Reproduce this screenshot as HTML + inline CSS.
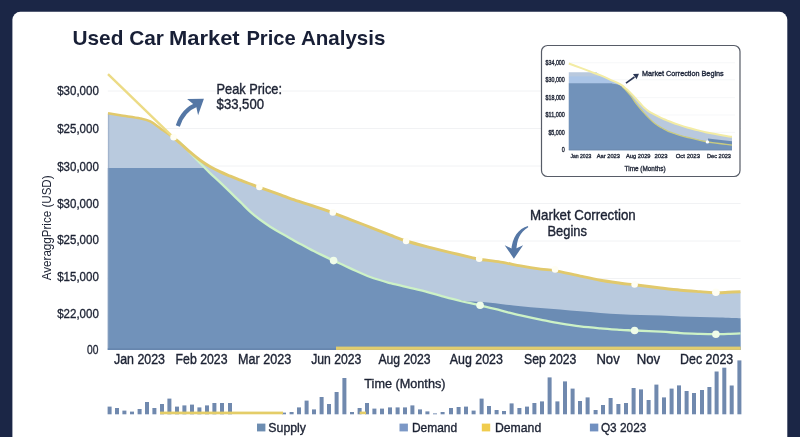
<!DOCTYPE html>
<html><head><meta charset="utf-8"><title>Used Car Market Price Analysis</title>
<style>html,body{margin:0;padding:0;background:#1b2646;width:800px;height:437px;overflow:hidden}svg{display:block;filter:blur(0.35px)}text{font-family:"Liberation Sans",Arial,sans-serif}</style></head><body>
<svg width="800" height="437" viewBox="0 0 800 437">
<rect width="800" height="437" fill="#1b2646"/>
<rect x="12.4" y="11.8" width="774.9" height="440" rx="8" ry="8" fill="#ffffff"/>
<g stroke="#f1f2f4" stroke-width="1"><line x1="107.8" y1="91.0" x2="740.6" y2="91.0"/><line x1="107.8" y1="128.5" x2="740.6" y2="128.5"/><line x1="107.8" y1="166.0" x2="740.6" y2="166.0"/><line x1="107.8" y1="203.5" x2="740.6" y2="203.5"/><line x1="107.8" y1="241.0" x2="740.6" y2="241.0"/><line x1="107.8" y1="278.5" x2="740.6" y2="278.5"/><line x1="107.8" y1="316.0" x2="740.6" y2="316.0"/></g>
<path d="M108.0,113.3 C110.0,113.6 114.7,114.4 120.1,115.3 C125.5,116.2 135.2,117.4 140.2,118.4 C145.2,119.4 146.9,119.7 150.3,121.4 C153.7,123.1 157.4,126.3 160.4,128.4 C163.4,130.5 166.2,132.5 168.4,134.0 C170.6,135.5 172.7,137.0 173.6,137.6 L173.6,137.6 C174.8,138.6 177.7,141.1 180.5,143.5 C183.3,145.9 186.9,149.4 190.2,152.2 C193.5,155.0 196.8,157.8 200.2,160.2 C203.5,162.6 206.9,164.8 210.3,166.7 C213.7,168.6 217.1,170.3 220.4,171.9 C223.8,173.5 227.1,174.8 230.4,176.2 C233.8,177.6 237.2,178.9 240.5,180.2 C243.8,181.5 247.3,182.8 250.5,184.0 C253.7,185.2 254.4,185.5 259.4,187.3 C264.4,189.1 275.5,192.9 280.7,194.8 C285.9,196.7 285.4,196.9 290.4,198.6 C295.4,200.3 303.4,202.8 310.5,205.2 C317.6,207.6 326.2,210.4 332.8,212.8 C339.4,215.2 344.1,217.2 350.4,219.6 C356.7,222.0 363.8,224.7 370.5,227.3 C377.2,229.9 384.5,232.9 390.4,235.2 C396.3,237.5 399.4,238.9 406.1,241.0 C412.8,243.1 423.2,245.7 430.6,247.6 C438.0,249.5 444.0,251.0 450.7,252.6 C457.4,254.2 466.1,256.2 470.8,257.3 C475.6,258.4 474.2,258.4 479.2,259.2 C484.2,260.0 493.7,261.0 500.6,262.1 C507.5,263.2 514.0,264.7 520.7,265.9 C527.4,267.1 535.1,268.3 540.8,269.1 C546.5,269.9 548.5,269.4 555.1,270.6 C561.7,271.8 572.7,274.5 580.2,276.1 C587.8,277.7 593.7,279.0 600.4,280.2 C607.1,281.4 614.8,282.4 620.5,283.2 C626.2,284.0 627.9,284.0 634.6,284.8 C641.3,285.6 653.0,287.1 660.7,288.0 C668.4,288.9 674.2,289.6 680.8,290.2 C687.3,290.8 694.1,291.2 700.0,291.6 C705.9,292.0 711.2,292.6 715.9,292.7 C720.6,292.8 723.9,292.5 728.0,292.3 C732.1,292.1 738.4,291.8 740.5,291.7 L740.6,350.0 L107.8,350.0 Z" fill="#b9cade"/>
<path d="M107.8,168 L204.6,168 L204.6,168.0 C205.6,168.9 207.7,170.9 210.3,173.3 C212.9,175.7 217.1,179.4 220.4,182.6 C223.7,185.8 227.0,189.0 230.3,192.2 C233.6,195.4 237.0,198.7 240.3,201.9 C243.6,205.1 246.8,208.6 250.1,211.6 C253.4,214.6 256.8,217.3 260.2,219.8 C263.6,222.3 266.8,224.5 270.2,226.7 C273.6,228.8 276.9,230.8 280.3,232.7 C283.7,234.6 287.0,236.5 290.4,238.4 C293.8,240.3 297.0,242.2 300.4,244.0 C303.8,245.8 307.1,247.7 310.5,249.4 C313.9,251.1 316.6,252.5 320.5,254.4 C324.4,256.3 328.6,258.3 333.6,260.6 C338.6,262.9 344.3,265.7 350.4,268.4 C356.5,271.1 363.5,274.5 370.2,277.0 C376.9,279.5 385.4,281.8 390.4,283.2 C395.4,284.6 395.1,284.2 400.0,285.4 C404.9,286.6 413.4,288.5 420.1,290.2 C426.8,291.9 433.5,293.9 440.2,295.7 C446.9,297.5 453.8,299.4 460.4,301.0 C467.0,302.6 473.4,303.7 480.1,305.3 C486.8,306.9 493.8,308.7 500.6,310.4 C507.4,312.1 514.1,313.9 520.7,315.4 C527.3,316.9 533.8,318.3 540.4,319.6 C547.0,320.9 553.5,322.3 560.1,323.4 C566.7,324.5 573.5,325.6 580.2,326.4 C586.9,327.2 593.7,327.8 600.4,328.4 C607.1,329.0 614.8,329.5 620.5,329.9 C626.2,330.2 627.9,330.2 634.6,330.5 C641.3,330.8 653.0,331.3 660.7,331.7 C668.4,332.1 674.2,332.7 680.8,333.1 C687.3,333.5 694.1,333.7 700.0,333.9 C705.9,334.1 711.2,334.2 715.9,334.2 C720.6,334.2 723.9,334.0 728.0,333.9 C732.1,333.8 738.4,333.5 740.5,333.4 L740.6,350.0 L107.8,350.0 Z" fill="#7192ba"/>
<path d="M452.0,298.8 C454.3,299.2 461.2,300.7 466.0,301.2 C470.8,301.7 474.7,301.4 480.5,301.8 C486.3,302.2 493.9,303.1 500.6,303.9 C507.3,304.6 514.1,305.6 520.7,306.3 C527.3,307.0 533.8,307.5 540.4,308.0 C547.0,308.5 553.5,308.8 560.1,309.4 C566.7,309.9 573.5,310.7 580.2,311.3 C586.9,311.9 593.7,312.4 600.4,312.9 C607.1,313.4 613.8,313.8 620.5,314.2 C627.2,314.6 633.9,314.8 640.6,315.0 C647.3,315.2 654.0,315.4 660.7,315.6 C667.4,315.8 674.2,316.2 680.8,316.4 C687.3,316.6 693.5,316.8 700.0,317.0 C706.5,317.2 713.2,317.4 720.0,317.6 C726.8,317.8 737.1,318.2 740.5,318.3 L740.6,333.4 L740.5,333.4 L728.0,333.9 L715.9,334.2 L700.0,333.9 L680.8,333.1 L660.7,331.7 L634.6,330.5 L620.5,329.9 L600.4,328.4 L580.2,326.4 L560.1,323.4 L540.4,319.6 L520.7,315.4 L500.6,310.4 L480.1,305.3 L460.4,301.0 Z" fill="#6b8cb4"/>
<rect x="107.8" y="113.5" width="1.4" height="236" fill="#8fa3c0" opacity="0.55"/>
<rect x="107.8" y="348.3" width="228.2" height="1.7" fill="#6786ae"/>
<rect x="336" y="346.6" width="404.6" height="3.3" fill="#e1cd6e"/>
<path d="M108.0,113.3 C110.0,113.6 114.7,114.4 120.1,115.3 C125.5,116.2 135.2,117.4 140.2,118.4 C145.2,119.4 146.9,119.7 150.3,121.4 C153.7,123.1 157.4,126.3 160.4,128.4 C163.4,130.5 166.2,132.5 168.4,134.0 C170.6,135.5 172.7,137.0 173.6,137.6" fill="none" stroke="#e1c96c" stroke-width="2.4" stroke-linejoin="round"/>
<path d="M108,74.1 L173.6,137.6" fill="none" stroke="#ecdb85" stroke-width="2.4" stroke-linecap="butt"/>
<path d="M173.6,137.6 C174.7,138.4 177.4,140.1 180.1,142.6 C182.8,145.1 186.7,149.1 190.0,152.6 C193.3,156.1 196.8,159.9 200.2,163.3 C203.6,166.8 206.9,170.1 210.3,173.3 C213.7,176.5 217.1,179.4 220.4,182.6 C223.7,185.8 227.0,189.0 230.3,192.2 C233.6,195.4 237.0,198.7 240.3,201.9 C243.6,205.1 246.8,208.6 250.1,211.6 C253.4,214.6 256.8,217.3 260.2,219.8 C263.6,222.3 266.8,224.5 270.2,226.7 C273.6,228.8 276.9,230.8 280.3,232.7 C283.7,234.6 287.0,236.5 290.4,238.4 C293.8,240.3 297.0,242.2 300.4,244.0 C303.8,245.8 307.1,247.7 310.5,249.4 C313.9,251.1 316.6,252.5 320.5,254.4 C324.4,256.3 328.6,258.3 333.6,260.6 C338.6,262.9 344.3,265.7 350.4,268.4 C356.5,271.1 363.5,274.5 370.2,277.0 C376.9,279.5 385.4,281.8 390.4,283.2 C395.4,284.6 395.1,284.2 400.0,285.4 C404.9,286.6 413.4,288.5 420.1,290.2 C426.8,291.9 433.5,293.9 440.2,295.7 C446.9,297.5 453.8,299.4 460.4,301.0 C467.0,302.6 473.4,303.7 480.1,305.3 C486.8,306.9 493.8,308.7 500.6,310.4 C507.4,312.1 514.1,313.9 520.7,315.4 C527.3,316.9 533.8,318.3 540.4,319.6 C547.0,320.9 553.5,322.3 560.1,323.4 C566.7,324.5 573.5,325.6 580.2,326.4 C586.9,327.2 593.7,327.8 600.4,328.4 C607.1,329.0 614.8,329.5 620.5,329.9 C626.2,330.2 627.9,330.2 634.6,330.5 C641.3,330.8 653.0,331.3 660.7,331.7 C668.4,332.1 674.2,332.7 680.8,333.1 C687.3,333.5 694.1,333.7 700.0,333.9 C705.9,334.1 711.2,334.2 715.9,334.2 C720.6,334.2 723.9,334.0 728.0,333.9 C732.1,333.8 738.4,333.5 740.5,333.4" fill="none" stroke="#cdf2c6" stroke-width="2.3" stroke-linejoin="round"/>
<path d="M173.6,137.6 C174.8,138.6 177.7,141.1 180.5,143.5 C183.3,145.9 186.9,149.4 190.2,152.2 C193.5,155.0 196.8,157.8 200.2,160.2 C203.5,162.6 206.9,164.8 210.3,166.7 C213.7,168.6 217.1,170.3 220.4,171.9 C223.8,173.5 227.1,174.8 230.4,176.2 C233.8,177.6 237.2,178.9 240.5,180.2 C243.8,181.5 247.3,182.8 250.5,184.0 C253.7,185.2 254.4,185.5 259.4,187.3 C264.4,189.1 275.5,192.9 280.7,194.8 C285.9,196.7 285.4,196.9 290.4,198.6 C295.4,200.3 303.4,202.8 310.5,205.2 C317.6,207.6 326.2,210.4 332.8,212.8 C339.4,215.2 344.1,217.2 350.4,219.6 C356.7,222.0 363.8,224.7 370.5,227.3 C377.2,229.9 384.5,232.9 390.4,235.2 C396.3,237.5 399.4,238.9 406.1,241.0 C412.8,243.1 423.2,245.7 430.6,247.6 C438.0,249.5 444.0,251.0 450.7,252.6 C457.4,254.2 466.1,256.2 470.8,257.3 C475.6,258.4 474.2,258.4 479.2,259.2 C484.2,260.0 493.7,261.0 500.6,262.1 C507.5,263.2 514.0,264.7 520.7,265.9 C527.4,267.1 535.1,268.3 540.8,269.1 C546.5,269.9 548.5,269.4 555.1,270.6 C561.7,271.8 572.7,274.5 580.2,276.1 C587.8,277.7 593.7,279.0 600.4,280.2 C607.1,281.4 614.8,282.4 620.5,283.2 C626.2,284.0 627.9,284.0 634.6,284.8 C641.3,285.6 653.0,287.1 660.7,288.0 C668.4,288.9 674.2,289.6 680.8,290.2 C687.3,290.8 694.1,291.2 700.0,291.6 C705.9,292.0 711.2,292.6 715.9,292.7 C720.6,292.8 723.9,292.5 728.0,292.3 C732.1,292.1 738.4,291.8 740.5,291.7" fill="none" stroke="#e1c96c" stroke-width="2.9" stroke-linejoin="round"/>
<g fill="#fffef4"><circle cx="173.6" cy="137.2" r="3.3"/><circle cx="259.4" cy="186.9" r="3.3"/><circle cx="332.8" cy="212.4" r="3.3"/><circle cx="406.1" cy="241.0" r="3.3"/><circle cx="479.2" cy="258.8" r="3.3"/><circle cx="555.1" cy="269.4" r="3.3"/><circle cx="634.6" cy="284.4" r="3.3"/><circle cx="715.9" cy="292.3" r="3.8"/></g>
<g fill="#effce9"><circle cx="333.6" cy="260.6" r="3.8"/><circle cx="480.1" cy="305.3" r="3.8"/><circle cx="634.6" cy="330.5" r="3.8"/><circle cx="715.9" cy="334.2" r="3.8"/></g>
<path d="M177.8,126 C181,116 188,108 197,104.5" fill="none" stroke="#5577a5" stroke-width="4.2" stroke-linecap="butt"/>
<path d="M187.1,99.1 L203.9,98.7 L198.1,115.2 L196.2,106.6 Z" fill="#5577a5"/>
<path d="M528,226 C518.5,228.6 512,237 511.2,251.5 L516.4,251.5 C516.6,239.5 520,232 528.2,227.2 Z" fill="#5577a5"/>
<path d="M504.7,245.2 L513.7,249.6 L523.1,245.2 L513.9,258.8 Z" fill="#5577a5"/>
<text x="216.6" y="93.6" font-size="14.5" text-anchor="start" font-weight="normal" fill="#1c2233" stroke="#1c2233" stroke-width="0.39" textLength="65.4" lengthAdjust="spacingAndGlyphs">Peak Price:</text>
<text x="216.6" y="109.4" font-size="14.5" text-anchor="start" font-weight="normal" fill="#1c2233" stroke="#1c2233" stroke-width="0.39" textLength="47.4" lengthAdjust="spacingAndGlyphs">$33,500</text>
<text x="530.0" y="220.2" font-size="14.4" text-anchor="start" font-weight="normal" fill="#1c2233" stroke="#1c2233" stroke-width="0.39" textLength="105.7" lengthAdjust="spacingAndGlyphs">Market Correction</text>
<text x="547.5" y="235.5" font-size="14.4" text-anchor="start" font-weight="normal" fill="#1c2233" stroke="#1c2233" stroke-width="0.39" textLength="39.4" lengthAdjust="spacingAndGlyphs">Begins</text>
<text x="72.5" y="44.9" font-size="21" text-anchor="start" font-weight="bold" fill="#181f36" textLength="91.4" lengthAdjust="spacingAndGlyphs">Used Car</text>
<text x="168.9" y="44.9" font-size="21" text-anchor="start" font-weight="bold" fill="#181f36" textLength="70.8" lengthAdjust="spacingAndGlyphs">Market</text>
<text x="246.4" y="44.9" font-size="21" text-anchor="start" font-weight="bold" fill="#181f36" textLength="49.3" lengthAdjust="spacingAndGlyphs">Price</text>
<text x="300.9" y="44.9" font-size="21" text-anchor="start" font-weight="bold" fill="#181f36" textLength="84.5" lengthAdjust="spacingAndGlyphs">Analysis</text>
<text x="98.8" y="95.3" font-size="12" text-anchor="end" font-weight="normal" fill="#1c2233" stroke="#1c2233" stroke-width="0.32" textLength="41.6" lengthAdjust="spacingAndGlyphs">$30,000</text>
<text x="98.8" y="132.9" font-size="12" text-anchor="end" font-weight="normal" fill="#1c2233" stroke="#1c2233" stroke-width="0.32" textLength="41.6" lengthAdjust="spacingAndGlyphs">$25,000</text>
<text x="98.8" y="170.6" font-size="12" text-anchor="end" font-weight="normal" fill="#1c2233" stroke="#1c2233" stroke-width="0.32" textLength="41.6" lengthAdjust="spacingAndGlyphs">$30,000</text>
<text x="98.8" y="207.9" font-size="12" text-anchor="end" font-weight="normal" fill="#1c2233" stroke="#1c2233" stroke-width="0.32" textLength="41.6" lengthAdjust="spacingAndGlyphs">$30,000</text>
<text x="98.8" y="244.3" font-size="12" text-anchor="end" font-weight="normal" fill="#1c2233" stroke="#1c2233" stroke-width="0.32" textLength="41.6" lengthAdjust="spacingAndGlyphs">$25,000</text>
<text x="98.8" y="280.9" font-size="12" text-anchor="end" font-weight="normal" fill="#1c2233" stroke="#1c2233" stroke-width="0.32" textLength="41.6" lengthAdjust="spacingAndGlyphs">$15,000</text>
<text x="98.8" y="317.8" font-size="12" text-anchor="end" font-weight="normal" fill="#1c2233" stroke="#1c2233" stroke-width="0.32" textLength="41.6" lengthAdjust="spacingAndGlyphs">$22,000</text>
<text x="98.4" y="353.9" font-size="12" text-anchor="end" font-weight="normal" fill="#1c2233" stroke="#1c2233" stroke-width="0.32" textLength="11.4" lengthAdjust="spacingAndGlyphs">00</text>
<text transform="translate(50.8,280.2) rotate(-90)" font-size="12.8" fill="#1c2233" textLength="104.8" lengthAdjust="spacingAndGlyphs">AveraggPrice (USD)</text>
<text x="114.0" y="363.8" font-size="14" text-anchor="start" font-weight="normal" fill="#1c2233" stroke="#1c2233" stroke-width="0.38" textLength="51.0" lengthAdjust="spacingAndGlyphs">Jan 2023</text>
<text x="175.6" y="363.8" font-size="14" text-anchor="start" font-weight="normal" fill="#1c2233" stroke="#1c2233" stroke-width="0.38" textLength="51.9" lengthAdjust="spacingAndGlyphs">Feb 2023</text>
<text x="238.0" y="363.8" font-size="14" text-anchor="start" font-weight="normal" fill="#1c2233" stroke="#1c2233" stroke-width="0.38" textLength="53.2" lengthAdjust="spacingAndGlyphs">Mar 2023</text>
<text x="311.2" y="363.8" font-size="14" text-anchor="start" font-weight="normal" fill="#1c2233" stroke="#1c2233" stroke-width="0.38" textLength="50.2" lengthAdjust="spacingAndGlyphs">Jun 2023</text>
<text x="378.4" y="363.8" font-size="14" text-anchor="start" font-weight="normal" fill="#1c2233" stroke="#1c2233" stroke-width="0.38" textLength="52.2" lengthAdjust="spacingAndGlyphs">Aug 2023</text>
<text x="449.7" y="363.8" font-size="14" text-anchor="start" font-weight="normal" fill="#1c2233" stroke="#1c2233" stroke-width="0.38" textLength="53.2" lengthAdjust="spacingAndGlyphs">Aug 2023</text>
<text x="524.1" y="363.8" font-size="14" text-anchor="start" font-weight="normal" fill="#1c2233" stroke="#1c2233" stroke-width="0.38" textLength="52.3" lengthAdjust="spacingAndGlyphs">Sep 2023</text>
<text x="596.4" y="363.8" font-size="14" text-anchor="start" font-weight="normal" fill="#1c2233" stroke="#1c2233" stroke-width="0.38" textLength="23.3" lengthAdjust="spacingAndGlyphs">Nov</text>
<text x="636.7" y="363.8" font-size="14" text-anchor="start" font-weight="normal" fill="#1c2233" stroke="#1c2233" stroke-width="0.38" textLength="23.4" lengthAdjust="spacingAndGlyphs">Nov</text>
<text x="680.1" y="363.8" font-size="14" text-anchor="start" font-weight="normal" fill="#1c2233" stroke="#1c2233" stroke-width="0.38" textLength="53.1" lengthAdjust="spacingAndGlyphs">Dec 2023</text>
<text x="364.3" y="388.0" font-size="13" text-anchor="start" font-weight="normal" fill="#1c2233" stroke="#1c2233" stroke-width="0.35" textLength="81.2" lengthAdjust="spacingAndGlyphs">Time (Months)</text>
<g fill="#7089ae"><rect x="107.6" y="406.6" width="4" height="7.7"/><rect x="115.0" y="408.0" width="4" height="6.3"/><rect x="122.4" y="410.6" width="4" height="3.7"/><rect x="130.0" y="411.6" width="4" height="2.7"/><rect x="137.6" y="409.0" width="4" height="5.3"/><rect x="145.0" y="402.0" width="4" height="12.3"/><rect x="152.4" y="408.0" width="4" height="6.3"/><rect x="160.0" y="404.0" width="4" height="10.3"/><rect x="167.4" y="398.6" width="4" height="15.7"/><rect x="175.0" y="406.6" width="4" height="7.7"/><rect x="182.4" y="405.4" width="4" height="8.9"/><rect x="190.0" y="404.6" width="4" height="9.7"/><rect x="197.4" y="407.4" width="4" height="6.9"/><rect x="205.0" y="405.4" width="4" height="8.9"/><rect x="212.4" y="403.0" width="4" height="11.3"/><rect x="220.0" y="403.0" width="4" height="11.3"/><rect x="228.0" y="403.0" width="4" height="11.3"/><rect x="282.0" y="412.6" width="4" height="1.7"/><rect x="289.6" y="412.0" width="4" height="2.3"/><rect x="297.0" y="407.4" width="4" height="6.9"/><rect x="304.6" y="400.6" width="4" height="13.7"/><rect x="312.0" y="409.4" width="4" height="4.9"/><rect x="319.6" y="397.0" width="4" height="17.3"/><rect x="327.0" y="404.0" width="4" height="10.3"/><rect x="334.6" y="392.0" width="4" height="22.3"/><rect x="342.4" y="378.0" width="4" height="36.3"/><rect x="350.0" y="412.0" width="4" height="2.3"/><rect x="357.6" y="408.0" width="4" height="6.3"/><rect x="365.0" y="403.0" width="4" height="11.3"/><rect x="372.4" y="408.6" width="4" height="5.7"/><rect x="380.0" y="408.6" width="4" height="5.7"/><rect x="388.0" y="407.4" width="4" height="6.9"/><rect x="395.6" y="407.4" width="4" height="6.9"/><rect x="403.0" y="407.4" width="4" height="6.9"/><rect x="410.4" y="405.4" width="4" height="8.9"/><rect x="418.0" y="409.4" width="4" height="4.9"/><rect x="425.4" y="411.4" width="4" height="2.9"/><rect x="433.0" y="413.4" width="4" height="0.9"/><rect x="440.6" y="412.0" width="4" height="2.3"/><rect x="449.0" y="408.0" width="4" height="6.3"/><rect x="456.6" y="407.0" width="4" height="7.3"/><rect x="464.0" y="406.6" width="4" height="7.7"/><rect x="471.6" y="410.6" width="4" height="3.7"/><rect x="479.6" y="398.6" width="4" height="15.7"/><rect x="487.0" y="406.0" width="4" height="8.3"/><rect x="494.6" y="410.0" width="4" height="4.3"/><rect x="502.0" y="411.0" width="4" height="3.3"/><rect x="509.6" y="403.4" width="4" height="10.9"/><rect x="517.4" y="408.0" width="4" height="6.3"/><rect x="525.0" y="406.6" width="4" height="7.7"/><rect x="532.4" y="403.0" width="4" height="11.3"/><rect x="540.0" y="401.4" width="4" height="12.9"/><rect x="547.6" y="377.4" width="4" height="36.9"/><rect x="555.4" y="401.4" width="4" height="12.9"/><rect x="563.0" y="381.4" width="4" height="32.9"/><rect x="570.6" y="388.6" width="4" height="25.7"/><rect x="578.0" y="401.0" width="4" height="13.3"/><rect x="585.6" y="397.4" width="4" height="16.9"/><rect x="593.6" y="410.0" width="4" height="4.3"/><rect x="601.0" y="405.0" width="4" height="9.3"/><rect x="608.6" y="398.0" width="4" height="16.3"/><rect x="616.4" y="404.0" width="4" height="10.3"/><rect x="624.0" y="403.0" width="4" height="11.3"/><rect x="631.6" y="388.0" width="4" height="26.3"/><rect x="639.0" y="389.4" width="4" height="24.9"/><rect x="646.6" y="400.0" width="4" height="14.3"/><rect x="654.4" y="384.6" width="4" height="29.7"/><rect x="662.0" y="397.4" width="4" height="16.9"/><rect x="669.6" y="388.6" width="4" height="25.7"/><rect x="677.0" y="385.4" width="4" height="28.9"/><rect x="684.6" y="391.0" width="4" height="23.3"/><rect x="692.0" y="393.0" width="4" height="21.3"/><rect x="700.0" y="390.0" width="4" height="24.3"/><rect x="707.4" y="387.0" width="4" height="27.3"/><rect x="714.6" y="371.5" width="4" height="42.8"/><rect x="722.3" y="367.7" width="4" height="46.6"/><rect x="729.7" y="385.5" width="4" height="28.8"/><rect x="737.4" y="360.4" width="4" height="53.9"/></g>
<rect x="160" y="411.6" width="123" height="2.7" fill="#e4cd68"/>
<rect x="359.6" y="411.6" width="6.4" height="2.6" fill="#e4cd68"/>
<rect x="257" y="423.6" width="8.4" height="7.8" fill="#6d8db1"/>
<text x="268.3" y="431.7" font-size="13" text-anchor="start" font-weight="normal" fill="#1c2233" stroke="#1c2233" stroke-width="0.35" textLength="37.7" lengthAdjust="spacingAndGlyphs">Supply</text>
<rect x="399.5" y="423.6" width="8.4" height="7.8" fill="#7c98c6"/>
<text x="411.9" y="431.7" font-size="13" text-anchor="start" font-weight="normal" fill="#1c2233" stroke="#1c2233" stroke-width="0.35" textLength="45.3" lengthAdjust="spacingAndGlyphs">Demand</text>
<rect x="481.8" y="423.6" width="8.4" height="7.8" fill="#f0cc4e"/>
<text x="495.0" y="431.7" font-size="13" text-anchor="start" font-weight="normal" fill="#1c2233" stroke="#1c2233" stroke-width="0.35" textLength="46.2" lengthAdjust="spacingAndGlyphs">Demand</text>
<rect x="589.9" y="423.6" width="8.4" height="7.8" fill="#7190c0"/>
<text x="600.9" y="431.7" font-size="13" text-anchor="start" font-weight="normal" fill="#1c2233" stroke="#1c2233" stroke-width="0.35" textLength="45.4" lengthAdjust="spacingAndGlyphs">Q3 2023</text>
<rect x="541.5" y="45.5" width="198.5" height="131" rx="6" ry="6" fill="#ffffff" stroke="#575c67" stroke-width="1.2"/>
<g stroke="#f2f3f6" stroke-width="0.7"><line x1="568.8" y1="62.7" x2="735.0" y2="62.7"/><line x1="568.8" y1="79.8" x2="735.0" y2="79.8"/><line x1="568.8" y1="97.6" x2="735.0" y2="97.6"/><line x1="568.8" y1="115.0" x2="735.0" y2="115.0"/><line x1="568.8" y1="132.4" x2="735.0" y2="132.4"/></g>
<text x="564.8" y="64.9" font-size="6.3" text-anchor="end" font-weight="normal" fill="#262c3c" stroke="#262c3c" stroke-width="0.36" textLength="19.3" lengthAdjust="spacingAndGlyphs">$34,000</text>
<text x="564.8" y="82.0" font-size="6.3" text-anchor="end" font-weight="normal" fill="#262c3c" stroke="#262c3c" stroke-width="0.36" textLength="19.3" lengthAdjust="spacingAndGlyphs">$30,000</text>
<text x="564.8" y="99.8" font-size="6.3" text-anchor="end" font-weight="normal" fill="#262c3c" stroke="#262c3c" stroke-width="0.36" textLength="19.3" lengthAdjust="spacingAndGlyphs">$18,000</text>
<text x="564.8" y="117.2" font-size="6.3" text-anchor="end" font-weight="normal" fill="#262c3c" stroke="#262c3c" stroke-width="0.36" textLength="19.3" lengthAdjust="spacingAndGlyphs">$11,000</text>
<text x="564.8" y="134.6" font-size="6.3" text-anchor="end" font-weight="normal" fill="#262c3c" stroke="#262c3c" stroke-width="0.36" textLength="16.4" lengthAdjust="spacingAndGlyphs">$5,000</text>
<text x="564.8" y="152.0" font-size="6.3" text-anchor="end" font-weight="normal" fill="#262c3c" stroke="#262c3c" stroke-width="0.36" textLength="3.0" lengthAdjust="spacingAndGlyphs">0</text>
<path d="M568.8,72.3 L596.5,72.3 L600.0,75.2 C601.7,75.9 607.1,78.3 610.0,79.6 C612.9,80.9 615.6,81.9 617.6,82.9 C619.6,83.9 620.5,84.4 622.0,85.4 C623.5,86.4 624.9,87.8 626.4,89.1 C627.9,90.4 629.5,91.9 631.0,93.4 C632.5,94.9 633.8,96.3 635.2,97.9 C636.6,99.5 638.1,101.2 639.6,102.8 C641.1,104.4 642.6,106.3 644.0,107.6 C645.4,108.9 646.5,109.8 648.0,110.8 C649.5,111.8 650.6,112.5 652.8,113.7 C655.0,114.9 658.1,116.5 661.0,117.8 C663.9,119.1 667.4,120.5 670.4,121.7 C673.4,122.9 676.1,123.9 679.0,124.9 C681.9,125.9 685.0,126.9 688.0,127.8 C691.0,128.7 694.1,129.4 697.0,130.1 C699.9,130.8 702.8,131.6 705.6,132.2 C708.4,132.8 711.1,133.3 714.0,133.8 C716.9,134.3 720.2,134.9 723.2,135.4 C726.2,135.9 730.5,136.6 732.0,136.8 L732.0,149.8 L568.8,149.8 Z" fill="#b9c9de"/>
<clipPath id="icl"><path d="M568.8,72.3 L596.5,72.3 L600.0,75.2 C601.7,75.9 607.1,78.3 610.0,79.6 C612.9,80.9 615.6,81.9 617.6,82.9 C619.6,83.9 620.5,84.4 622.0,85.4 C623.5,86.4 624.9,87.8 626.4,89.1 C627.9,90.4 629.5,91.9 631.0,93.4 C632.5,94.9 633.8,96.3 635.2,97.9 C636.6,99.5 638.1,101.2 639.6,102.8 C641.1,104.4 642.6,106.3 644.0,107.6 C645.4,108.9 646.5,109.8 648.0,110.8 C649.5,111.8 650.6,112.5 652.8,113.7 C655.0,114.9 658.1,116.5 661.0,117.8 C663.9,119.1 667.4,120.5 670.4,121.7 C673.4,122.9 676.1,123.9 679.0,124.9 C681.9,125.9 685.0,126.9 688.0,127.8 C691.0,128.7 694.1,129.4 697.0,130.1 C699.9,130.8 702.8,131.6 705.6,132.2 C708.4,132.8 711.1,133.3 714.0,133.8 C716.9,134.3 720.2,134.9 723.2,135.4 C726.2,135.9 730.5,136.6 732.0,136.8 L732.0,149.8 L568.8,149.8 Z"/></clipPath>
<rect x="568.8" y="76.4" width="60" height="7.2" fill="#abc5e7" clip-path="url(#icl)"/>
<path d="M568.8,83.3 L612,83.3 L612.0,83.4 C613.0,83.6 616.3,84.0 618.0,84.6 C619.7,85.2 621.0,85.8 622.4,86.8 C623.8,87.8 625.0,89.2 626.4,90.8 C627.8,92.4 629.5,94.3 631.0,96.2 C632.5,98.1 633.8,100.4 635.2,102.3 C636.6,104.2 638.1,106.0 639.6,107.8 C641.1,109.6 642.5,111.3 644.0,112.9 C645.5,114.5 646.9,116.1 648.4,117.6 C649.9,119.1 651.4,120.5 652.8,121.7 C654.2,122.9 655.5,124.0 657.0,125.0 C658.5,126.0 660.1,126.9 661.6,127.8 C663.1,128.7 664.5,129.5 666.0,130.2 C667.5,130.9 668.2,131.4 670.4,132.2 C672.6,133.0 676.1,134.2 679.0,135.1 C681.9,136.0 685.0,136.8 688.0,137.5 C691.0,138.2 694.1,138.9 697.0,139.6 C699.9,140.3 702.8,141.0 705.6,141.5 C708.4,142.0 711.1,142.4 714.0,142.8 C716.9,143.2 720.2,143.6 723.2,144.0 C726.2,144.4 730.5,144.9 732.0,145.1 L732.0,149.8 L568.8,149.8 Z" fill="#7192ba"/>
<path d="M708,138.6 L732,141.2 L732,145.1 L708,141.9 Z" fill="#6b8cb4"/>
<path d="M622.4,86.8 C623.1,87.5 625.0,89.2 626.4,90.8 C627.8,92.4 629.5,94.3 631.0,96.2 C632.5,98.1 633.8,100.4 635.2,102.3 C636.6,104.2 638.1,106.0 639.6,107.8 C641.1,109.6 642.5,111.3 644.0,112.9 C645.5,114.5 646.9,116.1 648.4,117.6 C649.9,119.1 651.4,120.5 652.8,121.7 C654.2,122.9 655.5,124.0 657.0,125.0 C658.5,126.0 660.1,126.9 661.6,127.8 C663.1,128.7 664.5,129.5 666.0,130.2 C667.5,130.9 668.2,131.4 670.4,132.2 C672.6,133.0 676.1,134.2 679.0,135.1 C681.9,136.0 685.0,136.8 688.0,137.5 C691.0,138.2 694.1,138.9 697.0,139.6 C699.9,140.3 702.8,141.0 705.6,141.5 C708.4,142.0 711.1,142.4 714.0,142.8 C716.9,143.2 720.2,143.6 723.2,144.0 C726.2,144.4 730.5,144.9 732.0,145.1" fill="none" stroke="#c9cb80" stroke-width="1.3"/>
<path d="M568.8,63.5 C570.7,64.2 576.5,66.3 580.0,67.6 C583.5,68.9 586.7,70.1 590.0,71.4 C593.3,72.7 596.7,73.8 600.0,75.2 C603.3,76.6 607.1,78.3 610.0,79.6 C612.9,80.9 615.6,81.9 617.6,82.9 C619.6,83.9 620.5,84.4 622.0,85.4 C623.5,86.4 624.9,87.8 626.4,89.1 C627.9,90.4 629.5,91.9 631.0,93.4 C632.5,94.9 633.8,96.3 635.2,97.9 C636.6,99.5 638.1,101.2 639.6,102.8 C641.1,104.4 642.6,106.3 644.0,107.6 C645.4,108.9 646.5,109.8 648.0,110.8 C649.5,111.8 650.6,112.5 652.8,113.7 C655.0,114.9 658.1,116.5 661.0,117.8 C663.9,119.1 667.4,120.5 670.4,121.7 C673.4,122.9 676.1,123.9 679.0,124.9 C681.9,125.9 685.0,126.9 688.0,127.8 C691.0,128.7 694.1,129.4 697.0,130.1 C699.9,130.8 702.8,131.6 705.6,132.2 C708.4,132.8 711.1,133.3 714.0,133.8 C716.9,134.3 720.2,134.9 723.2,135.4 C726.2,135.9 730.5,136.6 732.0,136.8" fill="none" stroke="#f3eca4" stroke-width="2.0"/>
<circle cx="707.4" cy="141.9" r="1.7" fill="#ffffff"/>
<line x1="568.8" y1="149.9" x2="732.0" y2="149.9" stroke="#5d7da6" stroke-width="1"/>
<path d="M626,83.2 L634.5,77" fill="none" stroke="#2b3654" stroke-width="1.6"/>
<path d="M633,74 L639,73.7 L636.6,79.2 Z" fill="#2b3654"/>
<text x="641.9" y="75.6" font-size="7.6" text-anchor="start" font-weight="normal" fill="#20283c" stroke="#20283c" stroke-width="0.36" textLength="81.8" lengthAdjust="spacingAndGlyphs">Market Correction Begins</text>
<text x="570.4" y="157.6" font-size="5.8" text-anchor="start" font-weight="normal" fill="#2a3040" stroke="#2a3040" stroke-width="0.36" textLength="21.0" lengthAdjust="spacingAndGlyphs">Jan 2023</text>
<text x="596.7" y="157.6" font-size="5.8" text-anchor="start" font-weight="normal" fill="#2a3040" stroke="#2a3040" stroke-width="0.36" textLength="23.3" lengthAdjust="spacingAndGlyphs">Aar 2023</text>
<text x="626.0" y="157.6" font-size="5.8" text-anchor="start" font-weight="normal" fill="#2a3040" stroke="#2a3040" stroke-width="0.36" textLength="24.5" lengthAdjust="spacingAndGlyphs">Aug 2029</text>
<text x="654.4" y="157.6" font-size="5.8" text-anchor="start" font-weight="normal" fill="#2a3040" stroke="#2a3040" stroke-width="0.36" textLength="13.2" lengthAdjust="spacingAndGlyphs">2023</text>
<text x="675.7" y="157.6" font-size="5.8" text-anchor="start" font-weight="normal" fill="#2a3040" stroke="#2a3040" stroke-width="0.36" textLength="24.3" lengthAdjust="spacingAndGlyphs">Oct 2023</text>
<text x="707.0" y="157.6" font-size="5.8" text-anchor="start" font-weight="normal" fill="#2a3040" stroke="#2a3040" stroke-width="0.36" textLength="24.0" lengthAdjust="spacingAndGlyphs">Dec 2023</text>
<text x="624.6" y="171.0" font-size="6.8" text-anchor="start" font-weight="normal" fill="#2a3040" stroke="#2a3040" stroke-width="0.36" textLength="41.0" lengthAdjust="spacingAndGlyphs">Time (Months)</text>
</svg></body></html>
